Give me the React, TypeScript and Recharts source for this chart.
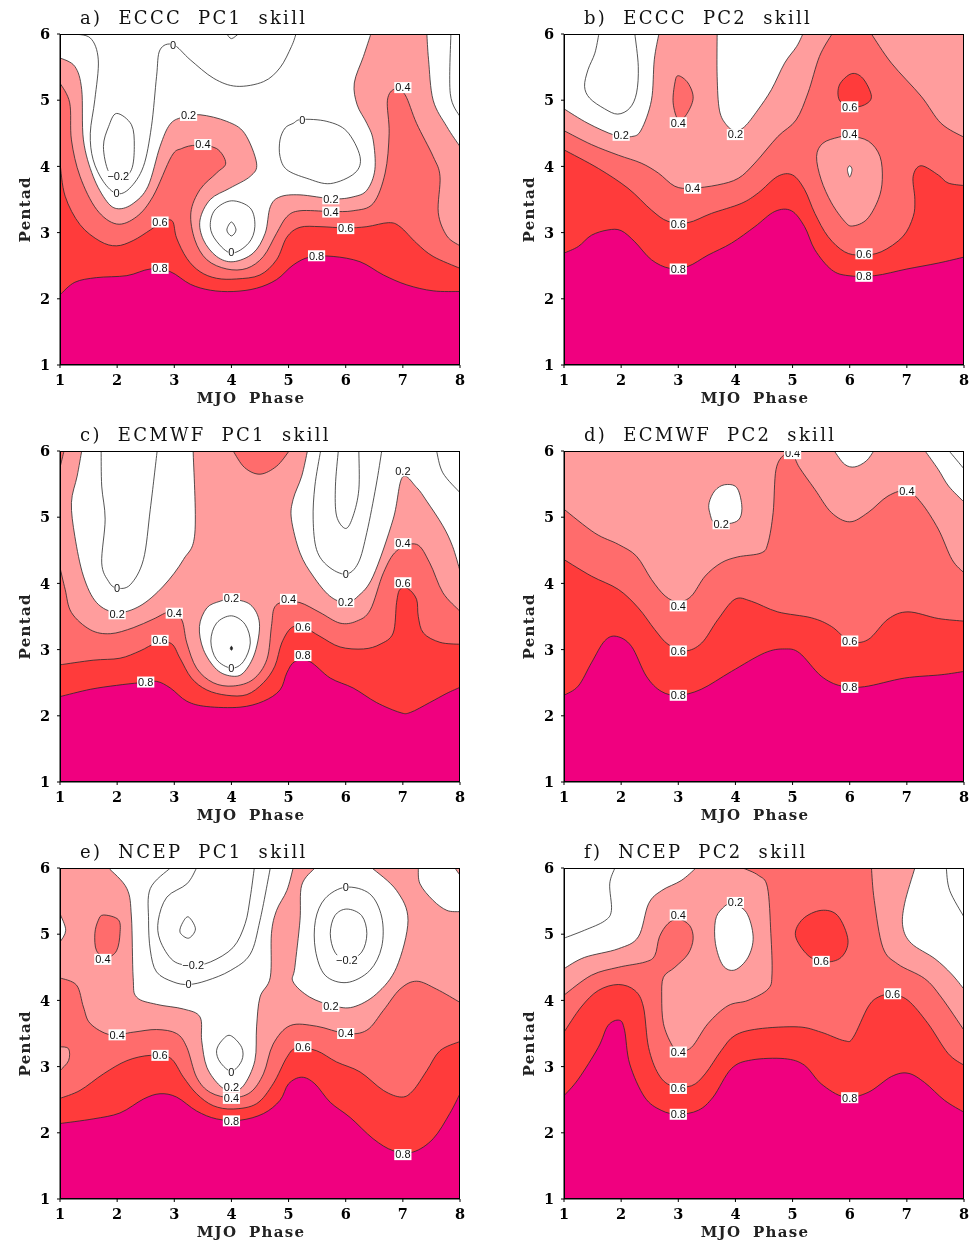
import React from 'react';
import { ScatterChart, Scatter, XAxis, YAxis } from 'recharts';

type Pt = [number, number];
type Mark = { pts: Pt[]; fill: string; open?: boolean };
type Note = [number, number, string];

const WHITE = '#ffffff';
const C02 = '#ff9d9d';
const C04 = '#ff6c6c';
const C06 = '#ff3b3b';
const C08 = '#f0007f';
const NONE = 'none';

const phaseTicks = [1, 2, 3, 4, 5, 6, 7, 8];
const pentadTicks = [1, 2, 3, 4, 5, 6];
const bottom: Pt[] = [[8, 1], [1, 1]];
const wholePlot: Pt[] = [[1, 1], [8, 1], [8, 6], [1, 6]];

// a) ECCC PC1
const a02: Pt[] = [[1, 5.64], [1.26, 5.51], [1.38, 5.16], [1.41, 4.4], [1.58, 3.85], [1.82, 3.47], [2.02, 3.36], [2.28, 3.44], [2.54, 3.7], [2.75, 4.3], [2.92, 4.63], [3.13, 4.74], [3.45, 4.78], [3.92, 4.68], [4.23, 4.5], [4.44, 4.05], [4.33, 3.85], [3.97, 3.67], [3.63, 3.5], [3.45, 3.19], [3.51, 2.89], [3.74, 2.64], [4.03, 2.56], [4.38, 2.69], [4.59, 2.99], [4.68, 3.39], [4.85, 3.54], [5.2, 3.57], [5.78, 3.51], [6.13, 3.54], [6.37, 3.64], [6.51, 3.95], [6.48, 4.4], [6.37, 4.65], [6.2, 4.93], [6.15, 5.26], [6.31, 5.66], [6.44, 6], [7.42, 6], [7.45, 5.61], [7.53, 5.0], [7.77, 4.6], [8, 4.3]];
const a04: Pt[] = [[1, 5.26], [1.17, 4.96], [1.2, 4.4], [1.35, 3.85], [1.64, 3.35], [1.99, 3.13], [2.34, 3.24], [2.63, 3.55], [2.95, 4.15], [3.13, 4.27], [3.39, 4.32], [3.74, 4.27], [3.9, 4.05], [3.74, 3.9], [3.45, 3.65], [3.29, 3.3], [3.36, 2.89], [3.57, 2.59], [3.92, 2.45], [4.27, 2.46], [4.56, 2.64], [4.79, 2.99], [4.97, 3.24], [5.2, 3.33], [5.73, 3.32], [6.13, 3.33], [6.48, 3.44], [6.69, 3.9], [6.76, 4.5], [6.73, 5.0], [6.86, 5.17], [7.04, 5.08], [7.24, 4.65], [7.53, 4.15], [7.65, 3.85], [7.62, 3.3], [7.77, 2.95], [8, 2.8]];
const a06: Pt[] = [[1, 4.05], [1.09, 3.55], [1.35, 3.12], [1.7, 2.87], [1.99, 2.8], [2.28, 2.88], [2.58, 3.04], [2.81, 3.17], [2.97, 3.17], [3.04, 2.92], [3.22, 2.61], [3.45, 2.41], [3.74, 2.31], [4.09, 2.3], [4.5, 2.36], [4.79, 2.59], [4.97, 2.93], [5.2, 3.08], [5.55, 3.09], [6, 3.07], [6.37, 3.09], [6.75, 3.15], [6.95, 3.09], [7.24, 2.84], [7.53, 2.64], [8, 2.46]];
const a08: Pt[] = [[1, 2.06], [1.26, 2.25], [1.64, 2.32], [2.17, 2.35], [2.58, 2.45], [2.93, 2.41], [3.28, 2.22], [3.63, 2.13], [4.03, 2.11], [4.44, 2.16], [4.79, 2.29], [5.08, 2.51], [5.37, 2.63], [5.78, 2.64], [6.25, 2.56], [6.66, 2.36], [7.07, 2.21], [7.53, 2.12], [8, 2.11]];
const aZeroTop: Pt[] = [[1.2, 6], [1.53, 5.94], [1.67, 5.61], [1.61, 5.01], [1.53, 4.5], [1.58, 4.1], [1.76, 3.77], [1.99, 3.59], [2.22, 3.67], [2.46, 4.0], [2.6, 4.6], [2.69, 5.36], [2.75, 5.76], [2.98, 5.84], [3.28, 5.61], [3.69, 5.33], [4.09, 5.21], [4.56, 5.28], [4.85, 5.49], [5.05, 5.81], [5.13, 6]];
const aNeg: Pt[] = [[1.99, 4.8], [2.25, 4.63], [2.3, 4.3], [2.25, 3.95], [2.05, 3.8], [1.85, 3.92], [1.76, 4.3], [1.85, 4.6]];
const aTopNub: Pt[] = [[3.92, 6], [4.0, 5.93], [4.12, 6]];
const aZeroRight: Pt[] = [[5.08, 4.65], [5.23, 4.71], [5.67, 4.68], [6.02, 4.53], [6.25, 4.15], [6.16, 3.9], [5.73, 3.74], [5.32, 3.82], [4.97, 3.95], [4.85, 4.15], [4.85, 4.4], [4.94, 4.58]];
const aCorner: Pt[] = [[7.84, 6], [7.83, 5.1], [8, 4.75]];
const aZeroMid: Pt[] = [[4, 3.48], [4.33, 3.37], [4.41, 3.09], [4.3, 2.84], [4, 2.69], [3.74, 2.87], [3.63, 3.09], [3.71, 3.34]];
const aMidTiny: Pt[] = [[4, 3.16], [4.08, 3.04], [4, 2.95], [3.92, 3.04]];
const aNotes: Note[] = [[2.98, 5.83, '0'], [2.02, 3.85, '−0.2'], [1.99, 3.59, '0'], [3.25, 4.77, '0.2'], [3.5, 4.33, '0.4'], [2.75, 3.16, '0.6'], [2.75, 2.46, '0.8'], [4, 2.7, '0'], [5.24, 4.7, '0'], [5.74, 3.51, '0.2'], [5.74, 3.31, '0.4'], [6, 3.06, '0.6'], [5.49, 2.65, '0.8'], [7, 5.19, '0.4']];

// b) ECCC PC2
const bHoleLeft: Pt[] = [[1, 6], [1, 4.87], [1.42, 4.65], [1.89, 4.47], [2.18, 4.45], [2.35, 4.55], [2.53, 5.0], [2.58, 5.61], [2.66, 6]];
const bHoleMid: Pt[] = [[3.68, 6], [3.68, 5.36], [3.72, 4.85], [3.84, 4.63], [3.99, 4.54], [4.16, 4.6], [4.39, 4.85], [4.63, 5.16], [4.86, 5.56], [5.07, 5.81], [5.18, 6]];
const bLine: Pt[] = [[1.61, 6], [1.54, 5.71], [1.42, 5.46], [1.36, 5.21], [1.45, 5.03], [1.71, 4.87], [1.94, 4.79], [2.15, 4.88], [2.27, 5.11], [2.3, 5.51], [2.24, 6]];
const b04: Pt[] = [[1, 4.54], [1.48, 4.33], [1.95, 4.17], [2.35, 4.05], [2.65, 3.9], [2.94, 3.7], [3.23, 3.67], [3.69, 3.72], [4.05, 3.82], [4.34, 4.05], [4.74, 4.45], [5.06, 4.7], [5.27, 5.11], [5.47, 5.66], [5.69, 6], [6.38, 6], [6.73, 5.56], [7.25, 5.06], [7.6, 4.65], [8, 4.44]];
const bIsle: Pt[] = [[3, 5.37], [3.17, 5.26], [3.26, 5.03], [3.14, 4.78], [3, 4.7], [2.91, 4.96], [2.94, 5.26]];
const bPool: Pt[] = [[6, 4.46], [6.33, 4.38], [6.53, 4.15], [6.57, 3.8], [6.5, 3.5], [6.3, 3.2], [6.05, 3.1], [5.91, 3.17], [5.68, 3.45], [5.5, 3.8], [5.42, 4.15], [5.53, 4.35], [5.8, 4.44]];
const bSpeck: Pt[] = [[6, 4.01], [6.04, 3.95], [6, 3.84], [5.96, 3.95]];
const bPeak: Pt[] = [[6.03, 5.4], [6.23, 5.33], [6.38, 5.06], [6.26, 4.93], [6.03, 4.9], [5.82, 5.0], [5.82, 5.23]];
const b06: Pt[] = [[1, 4.25], [1.6, 3.97], [2.12, 3.67], [2.53, 3.34], [2.82, 3.17], [3.17, 3.15], [3.58, 3.29], [4.1, 3.44], [4.4, 3.6], [4.74, 3.85], [5.0, 3.87], [5.21, 3.65], [5.39, 3.29], [5.62, 2.94], [5.91, 2.71], [6.2, 2.66], [6.55, 2.71], [6.93, 2.94], [7.11, 3.24], [7.14, 3.5], [7.11, 3.85], [7.25, 4.01], [7.55, 3.87], [7.72, 3.75], [8, 3.71]];
const b08: Pt[] = [[1, 2.69], [1.25, 2.79], [1.48, 2.96], [1.77, 3.04], [2, 3.03], [2.24, 2.86], [2.53, 2.59], [2.85, 2.46], [3.17, 2.49], [3.52, 2.66], [3.93, 2.84], [4.34, 3.09], [4.69, 3.32], [4.98, 3.33], [5.21, 3.09], [5.39, 2.74], [5.68, 2.44], [5.97, 2.35], [6.44, 2.35], [7, 2.45], [7.55, 2.54], [8, 2.63]];
const bNotes: Note[] = [[2, 4.47, '0.2'], [3, 4.66, '0.4'], [4, 4.48, '0.2'], [3.25, 3.67, '0.4'], [3, 3.13, '0.6'], [3, 2.45, '0.8'], [6, 4.9, '0.6'], [6, 4.48, '0.4'], [6.25, 2.68, '0.6'], [6.25, 2.34, '0.8']];

// c) ECMWF PC1
const cHoleLeft: Pt[] = [[1.38, 6], [1.3, 5.62], [1.2, 5.22], [1.26, 4.71], [1.41, 4.11], [1.64, 3.71], [1.99, 3.56], [2.4, 3.66], [2.81, 3.96], [3.16, 4.36], [3.36, 4.76], [3.33, 6]];
const cHoleRight: Pt[] = [[5.33, 6], [5.23, 5.62], [5.08, 5.27], [5.05, 4.97], [5.2, 4.46], [5.43, 4.11], [5.72, 3.81], [6, 3.71], [6.22, 3.81], [6.48, 4.11], [6.83, 4.97], [6.99, 5.6], [7.24, 5.45], [7.42, 5.24], [7.7, 4.87], [7.87, 4.56], [8, 4.19], [8, 6]];
const cCornerRed: Pt[] = [[1, 6], [1.07, 6], [1, 5.75]];
const cCap: Pt[] = [[4.03, 6], [4.23, 5.75], [4.5, 5.65], [4.79, 5.77], [5.01, 6]];
const cZeroLeft: Pt[] = [[1.72, 6], [1.73, 5.47], [1.79, 4.97], [1.73, 4.31], [1.85, 4.03], [1.99, 3.93], [2.23, 3.98], [2.46, 4.36], [2.58, 5.12], [2.7, 6]];
const cZeroRight: Pt[] = [[5.56, 6], [5.46, 5.47], [5.43, 4.97], [5.49, 4.51], [5.69, 4.26], [6, 4.14], [6.22, 4.31], [6.37, 4.77], [6.53, 5.47], [6.63, 6]];
const cNegRight: Pt[] = [[5.87, 6], [5.82, 5.47], [5.84, 5.02], [6, 4.83], [6.13, 5.02], [6.23, 5.42], [6.23, 6]];
const cCornerLine: Pt[] = [[7.59, 6], [7.7, 5.67], [8, 5.37]];
const cBowl: Pt[] = [[4, 3.76], [4.33, 3.68], [4.49, 3.4], [4.41, 2.95], [4.21, 2.65], [4, 2.6], [3.74, 2.7], [3.51, 3], [3.44, 3.35], [3.57, 3.63], [3.8, 3.73]];
const cBowlZero: Pt[] = [[4, 3.51], [4.24, 3.38], [4.33, 3.1], [4.21, 2.82], [4, 2.72], [3.74, 2.85], [3.64, 3.13], [3.74, 3.4]];
const cDot: Pt[] = [[4, 3.05], [4.02, 3.02], [4, 2.99], [3.98, 3.02]];
const c04: Pt[] = [[1, 4.24], [1.09, 3.91], [1.2, 3.56], [1.53, 3.3], [1.88, 3.24], [2.28, 3.33], [2.63, 3.46], [2.93, 3.57], [3.13, 3.45], [3.22, 3.1], [3.39, 2.72], [3.68, 2.5], [4.03, 2.45], [4.38, 2.55], [4.62, 2.85], [4.7, 3.35], [4.75, 3.63], [4.91, 3.72], [5.2, 3.71], [5.55, 3.56], [5.9, 3.4], [6.19, 3.43], [6.43, 3.6], [6.66, 4.16], [6.89, 4.49], [7.24, 4.59], [7.47, 4.31], [7.7, 3.86], [8, 3.58]];
const c06: Pt[] = [[1, 2.77], [1.58, 2.84], [2.05, 2.87], [2.4, 2.98], [2.69, 3.1], [2.95, 3.09], [3.1, 2.87], [3.3, 2.57], [3.57, 2.39], [3.92, 2.31], [4.27, 2.32], [4.56, 2.5], [4.76, 2.75], [4.88, 3.1], [5.05, 3.33], [5.26, 3.34], [5.55, 3.2], [5.9, 3.04], [6.31, 3.01], [6.6, 3.08], [6.83, 3.25], [6.89, 3.71], [6.95, 3.91], [7.09, 3.92], [7.24, 3.76], [7.27, 3.5], [7.36, 3.25], [7.65, 3.11], [8, 3.08]];
const c08: Pt[] = [[1, 2.29], [1.53, 2.4], [1.99, 2.46], [2.4, 2.5], [2.69, 2.52], [2.93, 2.42], [3.22, 2.22], [3.57, 2.14], [4.15, 2.13], [4.56, 2.22], [4.85, 2.39], [4.97, 2.65], [5.11, 2.82], [5.37, 2.82], [5.73, 2.57], [6.13, 2.42], [6.54, 2.2], [6.95, 2.05], [7.13, 2.05], [7.47, 2.2], [7.77, 2.34], [8, 2.43]];
const cNotes: Note[] = [[2, 3.92, '0'], [2, 3.54, '0.2'], [3, 3.55, '0.4'], [2.75, 3.14, '0.6'], [2.5, 2.51, '0.8'], [4, 3.77, '0.2'], [4, 2.72, '0'], [5, 3.76, '0.4'], [5.25, 3.34, '0.6'], [5.25, 2.91, '0.8'], [6, 3.72, '0.2'], [6, 4.14, '0'], [7, 5.7, '0.2'], [7, 4.6, '0.4'], [7, 4.01, '0.6']];

// d) ECMWF PC2
const dBlob: Pt[] = [[3.81, 5.49], [4.02, 5.45], [4.11, 5.19], [4.08, 4.99], [3.93, 4.91], [3.64, 4.91], [3.55, 5.07], [3.54, 5.22], [3.64, 5.4]];
const dTopGap: Pt[] = [[5.73, 6], [5.91, 5.8], [6.09, 5.76], [6.29, 5.85], [6.42, 6]];
const dCorner: Pt[] = [[7.32, 6], [7.55, 5.72], [7.73, 5.47], [8, 5.23], [8, 6]];
const dCornerLine: Pt[] = [[7.74, 6], [8, 5.73]];
const d04: Pt[] = [[1, 5.12], [1.54, 4.76], [1.95, 4.59], [2.27, 4.41], [2.53, 4.06], [2.77, 3.81], [3, 3.72], [3.23, 3.81], [3.47, 4.11], [3.75, 4.31], [4.04, 4.4], [4.45, 4.46], [4.57, 4.61], [4.66, 5.07], [4.71, 5.72], [4.86, 5.95], [5.0, 5.95], [5.12, 5.75], [5.39, 5.42], [5.68, 5.07], [6, 4.93], [6.32, 5.07], [6.67, 5.32], [7, 5.4], [7.25, 5.22], [7.55, 4.82], [7.79, 4.36], [8, 4.16]];
const d06: Pt[] = [[1, 4.36], [1.48, 4.11], [1.95, 3.91], [2.3, 3.63], [2.59, 3.3], [2.82, 3.08], [3.12, 2.98], [3.41, 3.1], [3.69, 3.45], [3.99, 3.76], [4.28, 3.73], [4.74, 3.57], [5.33, 3.48], [5.68, 3.35], [6, 3.13], [6.32, 3.15], [6.67, 3.46], [7.02, 3.57], [7.55, 3.47], [8, 3.43]];
const d08: Pt[] = [[1, 2.31], [1.25, 2.45], [1.48, 2.8], [1.71, 3.13], [1.92, 3.2], [2.18, 3.05], [2.44, 2.6], [2.7, 2.37], [3, 2.31], [3.4, 2.4], [3.93, 2.67], [4.51, 2.95], [4.86, 3.01], [5.12, 2.95], [5.5, 2.6], [5.85, 2.45], [6.26, 2.44], [6.96, 2.57], [7.6, 2.62], [8, 2.67]];
const dNotes: Note[] = [[3.75, 4.9, '0.2'], [5, 5.96, '0.4'], [7, 5.4, '0.4'], [3, 3.66, '0.4'], [3, 2.98, '0.6'], [3, 2.31, '0.8'], [6, 3.13, '0.6'], [6, 2.43, '0.8']];

// e) NCEP PC1
const eHoleMid: Pt[] = [[1.85, 6], [2.17, 5.69], [2.25, 5.26], [2.28, 4.35], [2.34, 4.05], [2.69, 3.94], [3.16, 3.87], [3.45, 3.75], [3.48, 3.39], [3.57, 2.99], [3.8, 2.71], [4, 2.64], [4.21, 2.71], [4.41, 3.09], [4.44, 3.6], [4.5, 4.05], [4.68, 4.35], [4.7, 5.01], [4.79, 5.36], [4.97, 5.66], [5.08, 6]];
const eHoleRight: Pt[] = [[5.46, 6], [5.23, 5.74], [5.2, 5.21], [5.11, 4.5], [5.08, 4.28], [5.37, 4.05], [5.78, 3.92], [6.13, 3.9], [6.54, 4.1], [6.89, 4.5], [7.09, 5.21], [6.89, 5.66], [6.46, 6]];
const eHoleCorner: Pt[] = [[7.27, 6], [7.3, 5.76], [7.53, 5.51], [7.77, 5.36], [8, 5.34], [8, 6]];
const eHoleEdge: Pt[] = [[1, 5.31], [1.1, 5.06], [1, 4.88]];
const eTinyCorner: Pt[] = [[7.91, 6], [8, 5.89], [8, 6]];
const eIsle: Pt[] = [[1.76, 5.29], [2.02, 5.22], [2.05, 5.01], [1.99, 4.75], [1.82, 4.65], [1.64, 4.75], [1.61, 5.01], [1.67, 5.21]];
const eZeroMid: Pt[] = [[2.93, 6], [2.58, 5.69], [2.55, 5.21], [2.58, 4.76], [2.69, 4.43], [2.98, 4.28], [3.25, 4.24], [3.57, 4.3], [3.98, 4.45], [4.33, 4.7], [4.5, 5.21], [4.68, 6]];
const eNegMid: Pt[] = [[3.39, 6], [3.22, 5.76], [2.87, 5.56], [2.72, 5.21], [2.75, 4.91], [2.98, 4.6], [3.3, 4.53], [3.63, 4.58], [4.03, 4.8], [4.24, 5.16], [4.33, 5.56], [4.4, 6]];
const eTiny: Pt[] = [[3.25, 5.26], [3.37, 5.08], [3.25, 4.94], [3.1, 5.03], [3.15, 5.18]];
const eZeroRight: Pt[] = [[6, 5.71], [6.42, 5.61], [6.63, 5.26], [6.63, 4.81], [6.42, 4.45], [6.02, 4.27], [5.64, 4.38], [5.47, 4.76], [5.47, 5.21], [5.64, 5.54]];
const eNegRight: Pt[] = [[6.02, 5.38], [6.28, 5.28], [6.37, 5.01], [6.28, 4.73], [6.02, 4.6], [5.81, 4.73], [5.73, 5.01], [5.81, 5.28]];
const eZeroLow: Pt[] = [[3.98, 3.47], [4.18, 3.29], [4.18, 3.09], [4, 2.93], [3.8, 3.07], [3.74, 3.24], [3.83, 3.39]];
const e04: Pt[] = [[1, 4.34], [1.29, 4.23], [1.41, 3.9], [1.53, 3.65], [1.88, 3.48], [2.28, 3.52], [2.69, 3.56], [3.04, 3.5], [3.22, 3.29], [3.39, 2.84], [3.63, 2.61], [4, 2.53], [4.33, 2.61], [4.56, 2.89], [4.73, 3.34], [5.03, 3.62], [5.49, 3.61], [6, 3.5], [6.37, 3.55], [6.66, 3.85], [6.95, 4.17], [7.24, 4.29], [7.59, 4.17], [8, 3.97]];
const ePatch: Pt[] = [[1, 3.3], [1.15, 3.27], [1.15, 3.09], [1, 2.94]];
const e06: Pt[] = [[1, 2.52], [1.35, 2.64], [1.76, 2.89], [2.17, 3.09], [2.58, 3.17], [2.93, 3.13], [3.16, 2.84], [3.39, 2.59], [3.68, 2.41], [4.03, 2.36], [4.44, 2.44], [4.73, 2.74], [4.97, 3.14], [5.14, 3.28], [5.49, 3.24], [5.84, 3.07], [6.25, 2.92], [6.66, 2.64], [6.98, 2.54], [7.18, 2.64], [7.42, 2.94], [7.65, 3.24], [8, 3.38]];
const e08: Pt[] = [[1, 2.14], [1.58, 2.21], [2.05, 2.3], [2.46, 2.51], [2.75, 2.59], [3.04, 2.54], [3.39, 2.33], [3.74, 2.21], [4.15, 2.19], [4.56, 2.29], [4.85, 2.49], [5, 2.74], [5.23, 2.84], [5.46, 2.74], [5.73, 2.46], [6.08, 2.23], [6.48, 1.91], [6.83, 1.73], [7.18, 1.71], [7.53, 1.91], [7.82, 2.29], [8, 2.59]];
const eNotes: Note[] = [[1.75, 4.62, '0.4'], [2, 3.48, '0.4'], [2.75, 3.17, '0.6'], [3.33, 4.53, '−0.2'], [3.25, 4.24, '0'], [4, 2.92, '0'], [4, 2.69, '0.2'], [4, 2.52, '0.4'], [4, 2.18, '0.8'], [5.25, 3.3, '0.6'], [5.74, 3.91, '0.2'], [6, 3.5, '0.4'], [6, 5.71, '0'], [6.02, 4.6, '−0.2'], [7, 1.67, '0.8']];

// f) NCEP PC2
const f02: Pt[] = [[1, 4.48], [1.36, 4.65], [1.95, 4.78], [2.3, 4.96], [2.48, 5.46], [2.71, 5.66], [3.05, 5.81], [3.31, 6], [7.14, 6], [6.96, 5.46], [6.93, 5.11], [7.08, 4.86], [7.49, 4.63], [7.78, 4.4], [8, 4.17]];
const fLineLeft: Pt[] = [[1.89, 6], [1.8, 5.76], [1.83, 5.36], [1.71, 5.2], [1.36, 5.06], [1, 4.94]];
const fLineRight: Pt[] = [[7.69, 6], [7.75, 5.66], [8, 5.26]];
const fHole: Pt[] = [[3.93, 5.46], [4.19, 5.33], [4.31, 4.96], [4.22, 4.65], [3.99, 4.46], [3.78, 4.53], [3.65, 4.86], [3.65, 5.21], [3.76, 5.38]];
const f04: Pt[] = [[1, 4.08], [1.48, 4.38], [1.95, 4.5], [2.42, 4.58], [2.59, 4.68], [2.67, 4.96], [2.82, 5.16], [3, 5.23], [3.2, 5.13], [3.26, 4.93], [3.17, 4.7], [2.94, 4.5], [2.74, 4.35], [2.71, 4.05], [2.74, 3.65], [2.88, 3.34], [3, 3.24], [3.23, 3.29], [3.52, 3.65], [3.87, 3.92], [4.22, 4.0], [4.57, 4.17], [4.64, 4.4], [4.62, 5.01], [4.56, 5.71], [4.4, 5.89], [4.13, 6], [6.38, 6], [6.43, 5.51], [6.58, 4.8], [6.84, 4.55], [7.31, 4.33], [7.6, 4.05], [8, 3.55]];
const fPool: Pt[] = [[5.5, 5.36], [5.79, 5.28], [5.97, 4.91], [5.85, 4.65], [5.56, 4.58], [5.27, 4.68], [5.05, 4.98], [5.18, 5.23]];
const f06: Pt[] = [[1, 3.52], [1.3, 3.9], [1.6, 4.15], [1.95, 4.24], [2.24, 4.15], [2.39, 3.9], [2.48, 3.29], [2.65, 2.89], [2.88, 2.71], [3.23, 2.71], [3.47, 2.89], [3.75, 3.24], [3.99, 3.47], [4.4, 3.57], [5.1, 3.6], [5.5, 3.52], [5.91, 3.39], [6.06, 3.44], [6.32, 3.9], [6.5, 4.05], [6.73, 4.09], [7.02, 4], [7.37, 3.65], [7.72, 3.2], [8, 3.02]];
const f08: Pt[] = [[1, 2.56], [1.25, 2.81], [1.6, 3.29], [1.77, 3.62], [1.97, 3.7], [2.06, 3.55], [2.15, 3.04], [2.41, 2.54], [2.7, 2.34], [3, 2.28], [3.35, 2.34], [3.61, 2.54], [3.93, 2.97], [4.28, 3.1], [4.86, 3.12], [5.21, 3.02], [5.5, 2.74], [5.91, 2.54], [6.32, 2.61], [6.73, 2.85], [7.02, 2.9], [7.31, 2.76], [7.66, 2.49], [8, 2.31]];
const fNotes: Note[] = [[3, 5.29, '0.4'], [4, 5.48, '0.2'], [5.5, 4.59, '0.6'], [6.75, 4.1, '0.6'], [3, 3.22, '0.4'], [3, 2.67, '0.6'], [3, 2.28, '0.8'], [6, 2.53, '0.8']];

const low = (pts: Pt[]) => pts.concat(bottom);

const panels: { title: string; left: number; top: number; marks: Mark[]; notes: Note[] }[] = [
  {
    title: 'a)  ECCC  PC1  skill', left: 0, top: 0, notes: aNotes,
    marks: [
      { pts: low(a02), fill: C02 }, { pts: low(a04), fill: C04 }, { pts: low(a06), fill: C06 }, { pts: low(a08), fill: C08 },
      { pts: aZeroTop, fill: NONE, open: true }, { pts: aNeg, fill: NONE }, { pts: aTopNub, fill: NONE, open: true },
      { pts: aZeroRight, fill: NONE }, { pts: aCorner, fill: NONE, open: true }, { pts: aZeroMid, fill: NONE }, { pts: aMidTiny, fill: NONE },
    ],
  },
  {
    title: 'b)  ECCC  PC2  skill', left: 504, top: 0, notes: bNotes,
    marks: [
      { pts: wholePlot, fill: C02 }, { pts: bHoleLeft, fill: WHITE }, { pts: bHoleMid, fill: WHITE }, { pts: bLine, fill: NONE, open: true },
      { pts: bIsle, fill: C04 }, { pts: low(b04), fill: C04 }, { pts: bPool, fill: C02 }, { pts: bSpeck, fill: WHITE }, { pts: bPeak, fill: C06 },
      { pts: low(b06), fill: C06 }, { pts: low(b08), fill: C08 },
    ],
  },
  {
    title: 'c)  ECMWF  PC1  skill', left: 0, top: 417, notes: cNotes,
    marks: [
      { pts: wholePlot, fill: C02 }, { pts: cHoleLeft, fill: WHITE }, { pts: cHoleRight, fill: WHITE }, { pts: cCornerRed, fill: C04 }, { pts: cCap, fill: C04 },
      { pts: cZeroLeft, fill: NONE, open: true }, { pts: cZeroRight, fill: NONE, open: true }, { pts: cNegRight, fill: NONE, open: true }, { pts: cCornerLine, fill: NONE, open: true },
      { pts: low(c04), fill: C04 }, { pts: cBowl, fill: WHITE }, { pts: cBowlZero, fill: NONE }, { pts: cDot, fill: '#222222' },
      { pts: low(c06), fill: C06 }, { pts: low(c08), fill: C08 },
    ],
  },
  {
    title: 'd)  ECMWF  PC2  skill', left: 504, top: 417, notes: dNotes,
    marks: [
      { pts: wholePlot, fill: C02 }, { pts: dBlob, fill: WHITE }, { pts: dTopGap, fill: WHITE }, { pts: dCorner, fill: WHITE }, { pts: dCornerLine, fill: NONE, open: true },
      { pts: low(d04), fill: C04 }, { pts: low(d06), fill: C06 }, { pts: low(d08), fill: C08 },
    ],
  },
  {
    title: 'e)  NCEP  PC1  skill', left: 0, top: 834, notes: eNotes,
    marks: [
      { pts: wholePlot, fill: C02 }, { pts: eHoleMid, fill: WHITE }, { pts: eHoleRight, fill: WHITE }, { pts: eHoleCorner, fill: WHITE }, { pts: eHoleEdge, fill: WHITE },
      { pts: eTinyCorner, fill: C02 }, { pts: eIsle, fill: C04 }, { pts: eZeroMid, fill: NONE, open: true }, { pts: eNegMid, fill: NONE, open: true }, { pts: eTiny, fill: NONE },
      { pts: eZeroRight, fill: NONE }, { pts: eNegRight, fill: NONE }, { pts: eZeroLow, fill: NONE },
      { pts: low(e04), fill: C04 }, { pts: ePatch, fill: C02 }, { pts: low(e06), fill: C06 }, { pts: low(e08), fill: C08 },
    ],
  },
  {
    title: 'f)  NCEP  PC2  skill', left: 504, top: 834, notes: fNotes,
    marks: [
      { pts: low(f02), fill: C02 }, { pts: fLineLeft, fill: NONE, open: true }, { pts: fLineRight, fill: NONE, open: true }, { pts: fHole, fill: WHITE },
      { pts: low(f04), fill: C04 }, { pts: fPool, fill: C06 }, { pts: low(f06), fill: C06 }, { pts: low(f08), fill: C08 },
    ],
  },
];

// points on the frame are doubled so the smoothing keeps corners sharp
const toRows = (pts: Pt[]) =>
  pts.flatMap(([x, y]) => {
    const row = { x, y };
    return x === 1 || x === 8 || y === 1 || y === 6 ? [row, row] : [row];
  });

const smoothPath = (points: { x: number; y: number }[], open?: boolean) => {
  const n = points.length;
  const at = (i: number) => (open ? points[Math.max(0, Math.min(n - 1, i))] : points[(i + n) % n]);
  let d = `M${points[0].x},${points[0].y}`;
  const last = open ? n - 1 : n;
  for (let i = 0; i < last; i++) {
    const p0 = at(i - 1);
    const p1 = at(i);
    const p2 = at(i + 1);
    const p3 = at(i + 2);
    const c1x = p1.x + (p2.x - p0.x) / 6;
    const c1y = p1.y + (p2.y - p0.y) / 6;
    const c2x = p2.x - (p3.x - p1.x) / 6;
    const c2y = p2.y - (p3.y - p1.y) / 6;
    d += `C${c1x},${c1y} ${c2x},${c2y} ${p2.x},${p2.y}`;
  }
  return open ? d : d + 'Z';
};

const noDot = () => <g />;

const NoteBox = (props: any) => {
  const { cx, cy, payload } = props;
  const w = payload.text.length * 5.4 + 1;
  return (
    <g>
      <rect x={cx - w / 2} y={cy - 5.5} width={w} height={11} fill="#fff" />
      <text x={cx} y={cy + 3.8} textAnchor="middle" fontSize={11} fontFamily="Liberation Sans" fill="#111">
        {payload.text}
      </text>
    </g>
  );
};

const tickStyle = { fontFamily: 'DejaVu Serif', fontSize: 14.5, fontWeight: 700, fill: '#000' };
const axisTitle = { fontFamily: 'DejaVu Serif', fontSize: 15, fontWeight: 700, fill: '#222', letterSpacing: 1.3, wordSpacing: 5 };

const Panel = ({ title, left, top, marks, notes }: (typeof panels)[number]) => (
  <div style={{ position: 'absolute', left, top, width: 480, height: 410 }}>
    <div
      style={{
        position: 'absolute',
        left: 80,
        top: 6,
        fontFamily: 'DejaVu Serif',
        fontSize: 18,
        letterSpacing: 2.3,
        lineHeight: '24px',
        whiteSpace: 'pre',
        color: '#111',
      }}
    >
      {title}
    </div>
    <ScatterChart width={480} height={410} margin={{ top: 34, right: 20, bottom: 15, left: 36 }}>
      <XAxis
        type="number"
        dataKey="x"
        domain={[1, 8]}
        ticks={phaseTicks}
        interval={0}
        allowDataOverflow
        height={30}
        tickSize={3}
        tickMargin={7}
        tick={tickStyle}
        stroke="#000"
        label={{ value: 'MJO Phase', position: 'insideBottom', offset: -8, dx: -9, style: axisTitle }}
      />
      <YAxis
        type="number"
        dataKey="y"
        domain={[1, 6]}
        ticks={pentadTicks}
        interval={0}
        allowDataOverflow
        width={24}
        tickSize={3}
        tickMargin={7}
        tick={tickStyle}
        stroke="#000"
        label={{ value: 'Pentad', angle: -90, position: 'insideLeft', offset: -11, dy: 43, style: axisTitle }}
      />
      {marks.map((m, i) => (
        <Scatter
          key={i}
          data={toRows(m.pts)}
          isAnimationActive={false}
          shape={noDot}
          line={(p: any) => <path d={smoothPath(p.points, m.open)} fill={m.fill} stroke="#2a2a2a" strokeWidth={0.8} />}
        />
      ))}
      <Scatter
        data={toRows(wholePlot)}
        isAnimationActive={false}
        shape={noDot}
        line={(p: any) => <path d={smoothPath(p.points)} fill="none" stroke="#000" strokeWidth={2} />}
      />
      <Scatter
        data={notes.map(([x, y, text]) => ({ x, y, text }))}
        isAnimationActive={false}
        shape={NoteBox}
      />
    </ScatterChart>
  </div>
);

export default function App() {
  return (
    <div
      style={{
        position: 'absolute',
        left: 0,
        top: 0,
        width: 971,
        height: 1244,
        background: '#fff',
        overflow: 'hidden',
        filter: 'blur(0.5px)',
      }}
    >
      {panels.map((p) => (
        <Panel key={p.title} {...p} />
      ))}
    </div>
  );
}
